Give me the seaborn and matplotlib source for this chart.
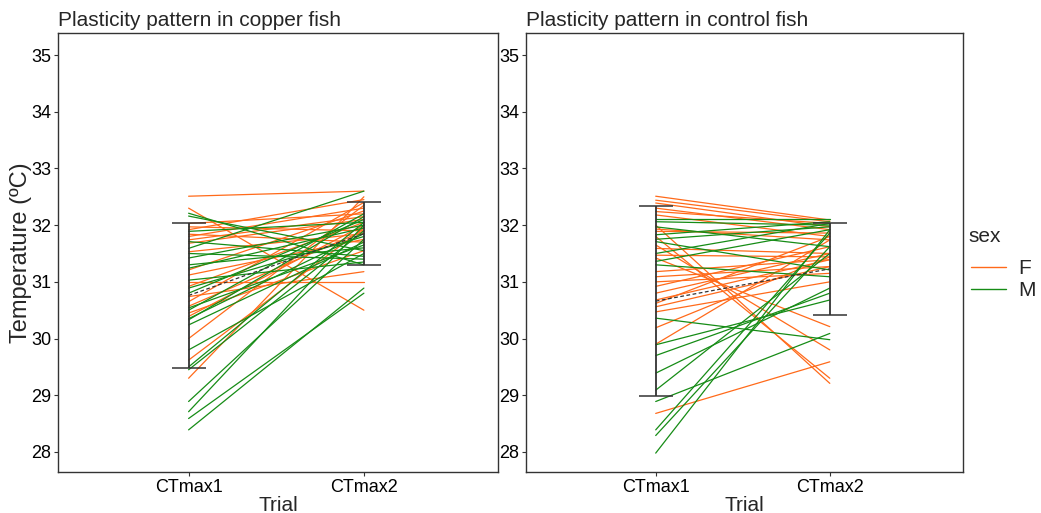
import pandas as pd
import numpy as np
import seaborn as sns
import matplotlib.pyplot as plt
from matplotlib.lines import Line2D

# values
trials = ['CTmax1', 'CTmax2']

copper_sex = ['F', 'F', 'M', 'M', 'F', 'F', 'F', 'M', 'F', 'F',
              'F', 'M', 'F', 'M', 'F', 'M', 'M', 'M', 'M', 'F',
              'F', 'M', 'F', 'F', 'M', 'M', 'F', 'F', 'F', 'M',
              'M', 'F', 'F', 'M', 'M', 'M', 'F', 'M', 'F', 'M',
              'M', 'F', 'M', 'M', 'M', 'M']
copper_ct1 = [32.51, 32.30, 32.21, 32.16, 32.03, 31.97, 31.92, 31.89, 31.84, 31.80,
              31.74, 31.71, 31.68, 31.59, 31.53, 31.50, 31.42, 31.30, 31.24, 31.21,
              31.12, 31.03, 31.00, 30.92, 30.89, 30.80, 30.74, 30.65, 30.57, 30.54,
              30.50, 30.45, 30.39, 30.35, 30.33, 30.24, 30.00, 29.80, 29.62, 29.50,
              29.45, 29.30, 28.89, 28.71, 28.59, 28.39]
copper_ct2 = [32.60, 30.50, 31.30, 31.55, 32.20, 31.90, 32.45, 32.05, 31.70, 32.30,
              32.15, 31.45, 32.10, 32.60, 31.85, 31.40, 32.00, 31.60, 31.95, 32.25,
              31.75, 31.35, 31.00, 32.05, 31.80, 32.10, 31.18, 32.40, 31.90, 31.65,
              32.20, 31.55, 32.00, 31.85, 32.15, 31.70, 32.35, 31.50, 31.95, 32.05,
              31.90, 32.50, 31.75, 32.00, 30.80, 30.89]

control_sex = ['F', 'F', 'F', 'F', 'F', 'F', 'M', 'M', 'F', 'M',
               'F', 'F', 'M', 'F', 'M', 'M', 'F', 'F', 'M', 'F',
               'F', 'M', 'M', 'F', 'F', 'F', 'F', 'F', 'F', 'F',
               'F', 'F', 'M', 'F', 'F', 'M', 'M', 'M', 'M', 'M',
               'F', 'M', 'M', 'M']
control_ct1 = [32.51, 32.44, 32.39, 32.30, 32.24, 32.18, 32.10, 32.06, 32.00, 31.97,
               31.93, 31.89, 31.83, 31.80, 31.75, 31.71, 31.65, 31.59, 31.50, 31.47,
               31.42, 31.36, 31.30, 31.18, 31.09, 31.00, 30.92, 30.80, 30.68, 30.62,
               30.56, 30.47, 30.36, 30.19, 29.90, 29.89, 29.70, 29.39, 29.09, 28.89,
               28.68, 28.39, 28.29, 27.98]
control_ct2 = [32.09, 32.06, 31.97, 31.92, 32.03, 31.80, 32.10, 32.00, 29.21, 31.62,
               31.74, 31.86, 32.06, 29.30, 31.97, 31.21, 29.80, 31.50, 32.03, 31.44,
               30.21, 31.92, 31.09, 31.39, 31.27, 31.15, 31.62, 31.50, 31.39, 31.80,
               31.27, 31.00, 29.98, 31.44, 31.74, 30.68, 30.80, 30.89, 31.50, 30.09,
               29.59, 31.86, 31.62, 31.92]

# mean and sd bars as drawn in the reference
copper_mean = [30.76, 31.85]
copper_sd = [1.28, 0.55]
control_mean = [30.66, 31.23]
control_sd = [1.67, 0.81]

titles = ['Plasticity pattern in copper fish', 'Plasticity pattern in control fish']
yticks = [28, 29, 30, 31, 32, 33, 34, 35]
sex_colors = {'F': '#FF6A1A', 'M': '#168C16'}


def long_table(sex, ct1, ct2):
    rows = []
    for i, (s, a, b) in enumerate(zip(sex, ct1, ct2)):
        rows.append({'fish': i, 'sex': s, 'pos': 0, 'temp': a})
        rows.append({'fish': i, 'sex': s, 'pos': 1, 'temp': b})
    return pd.DataFrame(rows)


sns.set_style('white')
plt.rcParams['font.family'] = ['Liberation Sans', 'DejaVu Sans']

fig = plt.figure(figsize=(10.41, 5.13), dpi=100)
ax1 = fig.add_axes([58 / 1041, 41 / 513, 440 / 1041, 439 / 513])
ax2 = fig.add_axes([526 / 1041, 41 / 513, 437 / 1041, 439 / 513])

panels = [(ax1, long_table(copper_sex, copper_ct1, copper_ct2), copper_mean, copper_sd),
          (ax2, long_table(control_sex, control_ct1, control_ct2), control_mean, control_sd)]

for k, (ax, df, means, sds) in enumerate(panels):
    sns.lineplot(data=df, x='pos', y='temp', hue='sex', units='fish', estimator=None,
                 palette=sex_colors, linewidth=0.9, legend=False, ax=ax)
    ax.errorbar([0, 1], means, yerr=sds, fmt='none', ecolor='#333333',
                elinewidth=1.3, capsize=12.5, capthick=1.1, zorder=3)
    ax.plot([0, 1], means, color='#333333', linestyle=(0, (3, 2)), linewidth=0.9, zorder=3)

    ax.set_xlim(-0.745, 1.765)
    ax.set_ylim(27.647, 35.388)
    ax.set_xticks([0, 1])
    ax.set_xticklabels(trials)
    ax.set_yticks(yticks)
    ax.tick_params(axis='both', labelsize=13, length=3, width=0.8, color='#333333',
                   pad=2, labelcolor='black', direction='out', left=True, bottom=True)
    for sp in ax.spines.values():
        sp.set_color('#333333')
        sp.set_linewidth(1.0)
    ax.set_title(titles[k], loc='left', fontsize=15, pad=5)
    ax.set_xlabel('Trial', fontsize=15, labelpad=0)
    ax.set_ylabel('')

ax1.set_ylabel('Temperature (ºC)', fontsize=17, labelpad=-1)

# legend: title as its own text so the gap matches the reference
fig.text(968 / 1041, 1 - 237 / 513, 'sex', fontsize=15, ha='left', va='center')
handles = [Line2D([], [], color=sex_colors['F'], linewidth=1.0),
           Line2D([], [], color=sex_colors['M'], linewidth=1.0)]
fig.legend(handles, ['F', 'M'], loc='upper left',
           bbox_to_anchor=(971 / 1041, 1 - 259 / 513), frameon=False,
           borderpad=0, borderaxespad=0,
           fontsize=15, handlelength=1.7, handletextpad=0.55,
           labelspacing=0.15)

fig.savefig('out.png', dpi=100)
